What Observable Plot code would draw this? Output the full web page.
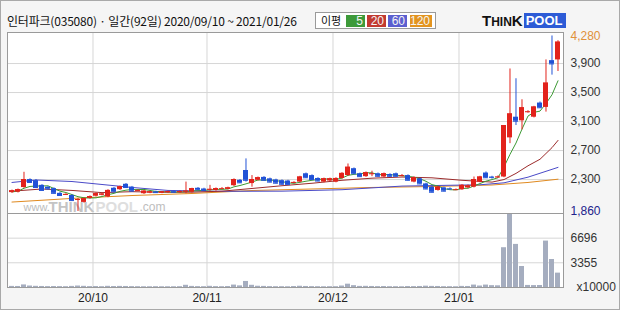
<!DOCTYPE html>
<html>
<head>
<meta charset="utf-8">
<script src="https://cdn.jsdelivr.net/npm/d3@7"></script>
<script src="https://cdn.jsdelivr.net/npm/@observablehq/plot@0.6"></script>
<style>
  html, body { margin: 0; padding: 0; background: #f5f5f5; }
  #wrap { position: relative; width: 620px; height: 310px; overflow: hidden; background: #f5f5f5;
          font-family: "Liberation Sans", Arial, sans-serif; }
  #wrap svg { position: absolute; left: 0; overflow: visible; }
  #title { position: absolute; left: 7px; top: 12px; font: 12px "Noto Sans CJK KR", sans-serif; color: #111; white-space: nowrap; letter-spacing: -0.2px; }
  #legend { position: absolute; left: 315px; top: 12px; width: 121px; height: 17px; background: #fff; border: 1px solid #9a9a9a; box-sizing: border-box; }
  #legend .lab { position: absolute; left: 5px; top: 0px; font: 11px "Noto Sans CJK KR", sans-serif; line-height: 15px; color: #111; }
  #legend .sw { position: absolute; top: 2px; height: 12px; color: #f4f4f4; font: 12px "Liberation Sans", Arial, sans-serif; line-height: 12px; text-align: right; box-sizing: border-box; padding-right: 2px; }
  #logo { position: absolute; left: 482px; top: 13px; height: 15px; white-space: nowrap; font-family: "Liberation Sans", Arial, sans-serif; font-weight: bold; line-height: 15px; }
  #logo .big { font-size: 15px; color: #111; }
  #logo .sm { font-size: 12px; color: #111; }
  #logo .pool { display: inline-block; background: #2d5bd6; color: #fff; font-size: 13px; padding: 0 3px 0 2px; margin-left: 1px; height: 15px; vertical-align: top; }
  #border { position: absolute; left: 0; top: 0; width: 620px; height: 310px; box-sizing: border-box; border: 1px solid #a9a9a9; pointer-events: none; }
</style>
</head>
<body>
<div id="wrap">
  <div id="title">인터파크(035080) · 일간(92일) 2020/09/10 ~ 2021/01/26</div>
  <div id="legend"><span class="lab">이평</span></div>
  <div id="logo"><span class="big">T</span><span class="sm">HIN</span><span class="big">K</span><span class="pool">POOL</span></div>
  <div id="border"></div>
</div>
<script>
// ---------------- data ----------------
const opens = [
  2120,2125,2190,2300,2285,2220,2195,2175,2110,2090,
  2080,2020,1985,2040,2070,2085,2060,2180,2160,2235,
  2195,2150,2105,2115,2130,2115,2120,2135,2120,2130,
  2125,2180,2170,2160,2150,2175,2165,2215,2290,2425,
  2245,2290,2330,2310,2295,2285,2280,2255,2265,2380,
  2355,2315,2265,2280,2265,2315,2355,2450,2380,2340,
  2375,2380,2335,2370,2380,2355,2355,2265,2310,2240,
  2195,2150,2185,2175,2160,2160,2185,2195,2265,2390,
  2335,2330,2335,2875,3160,3110,3230,3160,3355,3295,
  3940,3950];
const highs = [
  2155,2170,2400,2310,2300,2230,2200,2185,2120,2105,
  2090,2040,2045,2075,2115,2110,2160,2190,2210,2245,
  2205,2160,2150,2140,2140,2135,2140,2145,2145,2265,
  2180,2190,2180,2220,2185,2190,2195,2310,2300,2585,
  2355,2335,2340,2320,2305,2295,2290,2270,2345,2390,
  2365,2325,2320,2320,2325,2395,2515,2460,2390,2405,
  2415,2390,2390,2380,2390,2370,2365,2335,2320,2250,
  2205,2205,2195,2185,2170,2230,2225,2335,2345,2405,
  2345,2350,3045,3825,3690,3400,3250,3310,3370,3950,
  4280,4215];
const lows = [
  2110,2115,2180,2250,2180,2140,2160,2100,2070,2080,
  2000,1860,1975,2030,2060,2075,2050,2120,2150,2180,
  2130,2140,2095,2105,2110,2105,2110,2115,2110,2105,
  2115,2150,2140,2140,2140,2165,2160,2205,2245,2265,
  2195,2280,2280,2255,2240,2225,2220,2245,2255,2315,
  2290,2270,2255,2270,2255,2305,2345,2370,2330,2330,
  2340,2335,2325,2335,2335,2340,2280,2255,2230,2160,
  2115,2140,2130,2160,2150,2150,2175,2185,2255,2315,
  2305,2320,2325,2795,3045,2985,3215,3150,3280,3230,
  3740,3790];
const closes = [
  2145,2160,2300,2260,2190,2150,2170,2110,2080,2095,
  2010,2025,2035,2065,2105,2100,2150,2130,2200,2190,
  2140,2150,2140,2130,2120,2130,2135,2125,2135,2140,
  2175,2160,2150,2165,2175,2175,2185,2300,2255,2290,
  2300,2325,2290,2265,2250,2235,2230,2260,2335,2325,
  2300,2280,2310,2310,2315,2385,2470,2380,2340,2395,
  2380,2345,2380,2345,2345,2355,2290,2325,2240,2170,
  2125,2195,2140,2170,2160,2220,2210,2300,2335,2325,
  2330,2335,3045,3205,3105,3290,3235,3300,3290,3630,
  3895,4195];
// volume, unit x10000 shares
const volumes = [
  150,140,350,200,160,140,120,130,120,110,
  150,200,160,120,130,110,160,130,150,140,
  120,110,100,100,110,100,100,100,110,300,
  150,120,110,160,120,110,130,330,220,820,
  300,170,150,120,110,110,100,130,170,140,
  120,110,100,110,110,200,450,250,150,160,
  140,120,130,110,110,100,130,120,140,180,
  150,140,110,110,100,150,140,330,200,330,
  250,230,5400,10044,5850,2850,280,260,270,6300,
  3800,1950];
// moving averages
const ma5 = [
  2130,2140,2180,2205,2211,2212,2214,2176,2140,2121,
  2093,2064,2049,2046,2048,2066,2091,2110,2137,2154,
  2162,2162,2164,2150,2136,2134,2131,2128,2129,2133,
  2142,2147,2152,2158,2165,2165,2170,2200,2218,2241,
  2266,2294,2292,2294,2286,2273,2254,2248,2262,2277,
  2290,2300,2310,2305,2303,2320,2358,2372,2378,2394,
  2393,2368,2368,2369,2359,2354,2343,2332,2311,2276,
  2230,2211,2174,2160,2158,2177,2180,2212,2245,2278,
  2300,2325,2474,2648,2804,2996,3176,3227,3244,3349,
  3470,3662];
const ma20Idx = [0,5,10,15,20,25,30,35,40,45,50,55,60,65,70,75,78,80,82,84,86,88,89,90,91];
const ma20Val = [2140,2170,2150,2120,2133,2125,2126,2140,2177,2215,2249,2290,2319,2335,2324,2290,2275,2265,2300,2385,2490,2580,2660,2740,2840];
const ma60Idx = [0,4,10,15,20,26,35,45,55,65,72,78,82,86,91];
const ma60Val = [2260,2294,2273,2232,2191,2150,2138,2140,2160,2210,2220,2228,2255,2333,2468];
const ma120Idx = [0,10,20,30,40,50,60,70,80,86,91];
const ma120Val = [1990,2040,2080,2108,2149,2170,2191,2204,2225,2260,2305];

const maLabels = ["5", "20", "60", "120"];
const priceTicks = [3900, 3500, 3100, 2700, 2300];
const maxPrice = 4280, minPrice = 1860;
const volTicks = [6696, 3355];
const volUnit = "x10000";
const monthStartIdx = [14, 33, 54, 75];
const monthLabels = ["20/10", "20/11", "20/12", "21/01"];

// ---------------- styles ----------------
const upColor = "#e2231c", downColor = "#2152d6";
const maColors = ["#3d9a35", "#9c2b2b", "#4a4ac8", "#e08a20"];
const legendColors = ["#3d9a3a", "#c23a30", "#5b5fd0", "#e39420"];
const gridColor = "#d6d6d6", frameColor = "#9a9a9a";
const fontFam = "Liberation Sans, Arial, sans-serif";

// ---------------- build ----------------
const candles = d3.range(opens.length).map(i => ({
  i, open: opens[i], high: highs[i], low: lows[i], close: closes[i], vol: volumes[i]
}));
const col = d => d.close >= d.open ? upColor : downColor;
const toPts = (idx, val) => idx.map((i, k) => ({i, v: val[k]}));
const ma5Pts = ma5.map((v, i) => ({i, v}));
const monthTickPos = monthStartIdx.map(i => i - 0.5);
const xDomain = [-0.75, 91.9167];
const fmt = d3.format(",");
const half = 0.4167;

const pricePlot = Plot.plot({
  width: 620, height: 213,
  marginTop: 32, marginBottom: 0, marginLeft: 7, marginRight: 57,
  x: {domain: xDomain, axis: null},
  y: {domain: [1832, 4328], axis: null},
  style: {background: "transparent", fontFamily: fontFam, fontSize: "12px"},
  marks: [
    Plot.frame({fill: "#fff", stroke: "none"}),
    Plot.gridY(priceTicks, {stroke: gridColor, strokeOpacity: 1}),
    Plot.gridX(monthTickPos, {stroke: gridColor, strokeOpacity: 1}),
    // watermark
    Plot.text(["www."], {text: d => d, frameAnchor: "bottom-left", dx: 16, dy: -3, lineAnchor: "bottom", textAnchor: "start", fontSize: 11, fill: "#bdbdbd"}),
    Plot.text(["THINK"], {text: d => d, frameAnchor: "bottom-left", dx: 41, dy: -2, lineAnchor: "bottom", textAnchor: "start", fontSize: 15, fontWeight: "bold", fill: "#c4c4c4"}),
    Plot.text(["POOL"], {text: d => d, frameAnchor: "bottom-left", dx: 88, dy: -2, lineAnchor: "bottom", textAnchor: "start", fontSize: 15, fontWeight: "bold", fill: "#dedede"}),
    Plot.text([".com"], {text: d => d, frameAnchor: "bottom-left", dx: 132, dy: -3, lineAnchor: "bottom", textAnchor: "start", fontSize: 12, fill: "#bdbdbd"}),
    // moving averages
    Plot.line(toPts(ma120Idx, ma120Val), {x: "i", y: "v", stroke: maColors[3], strokeWidth: 1}),
    Plot.line(toPts(ma60Idx, ma60Val), {x: "i", y: "v", stroke: maColors[2], strokeWidth: 1}),
    Plot.line(toPts(ma20Idx, ma20Val), {x: "i", y: "v", stroke: maColors[1], strokeWidth: 1}),
    Plot.line(ma5Pts, {x: "i", y: "v", stroke: maColors[0], strokeWidth: 1}),
    // candles
    Plot.ruleX(candles, {x: "i", y1: "low", y2: "high", stroke: col, strokeWidth: 1}),
    Plot.rect(candles, {x1: d => d.i - half, x2: d => d.i + half, y1: "open", y2: "close", fill: col}),
    Plot.ruleY(candles, {y: "close", x1: d => d.i - half, x2: d => d.i + half, stroke: col}),
    // right axis
    Plot.axisY({anchor: "right", label: null, ticks: priceTicks, tickSize: 0, tickPadding: 7, tickFormat: fmt, color: "#333", fontSize: 12}),
    Plot.text([maxPrice], {y: d => d, text: d => fmt(d), frameAnchor: "right", dx: 7, textAnchor: "start", fill: "#e0913a", fontSize: 12}),
    Plot.text([minPrice], {y: d => d, text: d => fmt(d), frameAnchor: "right", dx: 7, textAnchor: "start", fill: "#23238c", fontSize: 12}),
    Plot.frame({stroke: frameColor})
  ]
});
pricePlot.style.top = "0px";

const volPlot = Plot.plot({
  width: 620, height: 97,
  marginTop: 0, marginBottom: 23, marginLeft: 7, marginRight: 57,
  x: {domain: xDomain, axis: null},
  y: {domain: [0, 10044], axis: null},
  style: {background: "transparent", fontFamily: fontFam, fontSize: "12px"},
  marks: [
    Plot.frame({fill: "#fff", stroke: "none"}),
    Plot.gridY(volTicks, {stroke: gridColor, strokeOpacity: 1}),
    Plot.gridX(monthTickPos, {stroke: gridColor, strokeOpacity: 1}),
    Plot.rectY(candles, {x1: d => d.i - half, x2: d => d.i + half, y: "vol", fill: "#a5adbf"}),
    Plot.axisY({anchor: "right", label: null, ticks: volTicks, tickSize: 0, tickPadding: 7, tickFormat: d => String(d), color: "#333", fontSize: 12}),
    Plot.text([volUnit], {y: () => 0, text: d => d, frameAnchor: "right", dx: 13, textAnchor: "start", fill: "#333", fontSize: 12}),
    Plot.axisX({anchor: "bottom", label: null, ticks: monthTickPos, tickSize: 0, tickPadding: 6,
      tickFormat: d => monthLabels[monthTickPos.indexOf(d)], color: "#222", fontSize: 12}),
    Plot.frame({stroke: frameColor})
  ]
});
volPlot.style.top = "213px";

const wrap = document.getElementById("wrap");
const border = document.getElementById("border");
wrap.insertBefore(pricePlot, border);
wrap.insertBefore(volPlot, border);

// legend swatches
const legend = document.getElementById("legend");
const swLeft = [30, 51, 72, 94], swWidth = [19, 19, 19, 22];
maLabels.forEach((lab, k) => {
  const s = document.createElement("span");
  s.className = "sw";
  s.textContent = lab;
  s.style.left = swLeft[k] + "px";
  s.style.width = swWidth[k] + "px";
  s.style.background = legendColors[k];
  legend.appendChild(s);
});
</script>
</body>
</html>
